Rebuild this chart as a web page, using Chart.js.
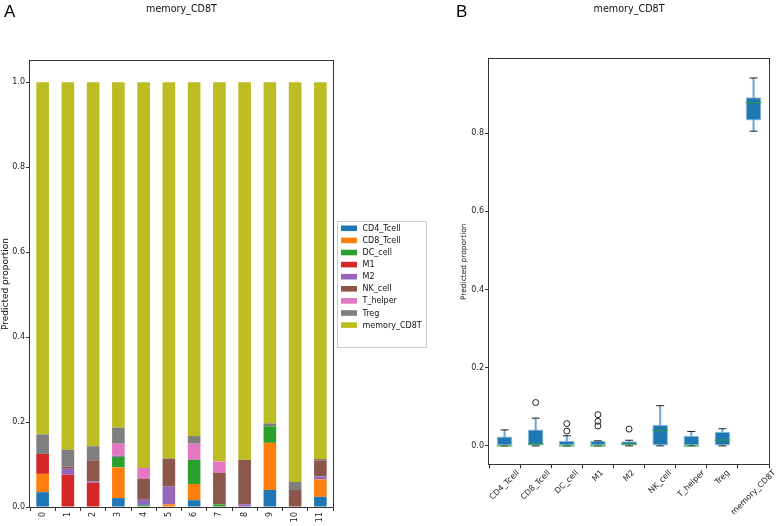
<!DOCTYPE html>
<html><head><meta charset="utf-8">
<script src="https://cdn.jsdelivr.net/npm/chart.js@4/dist/chart.umd.min.js"></script>
<style>
html,body{margin:0;padding:0;background:#fff;width:778px;height:526px;overflow:hidden;}
#ca{position:absolute;left:0;top:0;}
#cb{position:absolute;left:440px;top:0;}
.lbl{position:absolute;font-family:'Liberation Sans',Arial,sans-serif;font-size:17px;line-height:17px;color:#000;}
</style></head><body>
<canvas id="ca" width="440" height="526"></canvas>
<canvas id="cb" width="338" height="526"></canvas>
<div class="lbl" style="left:4px;top:3px">A</div>
<div class="lbl" style="left:456px;top:3px">B</div>
<script>
// ---------- Panel A data (stacked proportions per sample) ----------
const samples = ['0','1','2','3','4','5','6','7','8','9','10','11'];
const cellTypes = ['CD4_Tcell','CD8_Tcell','DC_cell','M1','M2','NK_cell','T_helper','Treg','memory_CD8T'];
const CD4_Tcell   = [0.035,0,0,0.021,0,0,0.016,0,0,0.040,0,0.024];
const CD8_Tcell   = [0.043,0,0,0.072,0,0.006,0.038,0,0,0.111,0,0.041];
const DC_cell     = [0,0,0,0.025,0.004,0,0.057,0.006,0,0.039,0,0];
const M1          = [0.047,0.076,0.057,0,0,0,0,0,0,0,0,0];
const M2          = [0,0.014,0.003,0.003,0.013,0.042,0,0,0.006,0,0,0.007];
const NK_cell     = [0,0.005,0.050,0,0.049,0.066,0,0.074,0.105,0,0.040,0.038];
const T_helper    = [0,0,0,0.028,0.026,0,0.038,0.027,0,0,0,0];
const Treg        = [0.046,0.040,0.033,0.038,0,0,0.018,0,0,0.007,0.019,0.003];
const memory_CD8T = [0.829,0.865,0.857,0.813,0.908,0.886,0.833,0.893,0.889,0.803,0.941,0.887];
const seriesValues = [CD4_Tcell,CD8_Tcell,DC_cell,M1,M2,NK_cell,T_helper,Treg,memory_CD8T];
const seriesColors = ['#1f77b4','#ff7f0e','#2ca02c','#d62728','#9467bd','#8c564b','#e377c2','#7f7f7f','#bcbd22'];
const yTicksA = [0,0.2,0.4,0.6,0.8,1.0];

// ---------- Panel B data (box plot statistics) ----------
const boxCategories = ['CD4_Tcell','CD8_Tcell','DC_cell','M1','M2','NK_cell','T_helper','Treg','memory_CD8T'];
const boxQ1       = [0,0,0,0,0,0,0,0.001,0.832];
const boxMedian   = [0,0.005,0,0,0.005,0.040,0,0.015,0.878];
const boxQ3       = [0.024,0.042,0.013,0.013,0.012,0.054,0.026,0.036,0.892];
const whiskerLow  = [0,0,0,0,0,0,0,0,0.805];
const whiskerHigh = [0.041,0.071,0.026,0.013,0.0145,0.103,0.037,0.044,0.941];
const outlierCategory = ['CD8_Tcell','DC_cell','DC_cell','M1','M1','M1','M2'];
const outlierValue    = [0.111,0.038,0.057,0.051,0.063,0.080,0.043];
const yTicksB = [0,0.2,0.4,0.6,0.8];

Chart.defaults.font.family = '"DejaVu Sans", sans-serif';
Chart.defaults.color = '#222';

const spines = {
  id:'spines',
  afterDatasetsDraw(chart){
    const {ctx, chartArea:a} = chart;
    ctx.save();
    ctx.strokeStyle = '#333'; ctx.lineWidth = 1;
    ctx.strokeRect(Math.round(a.left)-0.5, Math.round(a.top)-0.5, Math.round(a.right)-Math.round(a.left)+1, Math.round(a.bottom)-Math.round(a.top)+1);
    ctx.restore();
  }
};

const boxLegend = {
  id:'boxLegend',
  afterDraw(chart, args, o){
    const ctx = chart.ctx;
    ctx.save();
    ctx.fillStyle = 'rgba(255,255,255,0.85)';
    ctx.fillRect(o.x, o.y, o.w, o.h);
    ctx.strokeStyle = '#cccccc'; ctx.lineWidth = 1;
    ctx.strokeRect(o.x+0.5, o.y+0.5, o.w, o.h);
    ctx.font = '8px "DejaVu Sans"';
    ctx.textBaseline = 'middle';
    chart.data.datasets.forEach((ds,i)=>{
      const cy = o.y + o.first + i*o.step;
      ctx.fillStyle = ds.backgroundColor;
      ctx.fillRect(o.x+4, cy-2.8, 16, 5.6);
      ctx.fillStyle = '#111';
      ctx.fillText(ds.label, o.x+25.5, cy+0.5);
    });
    ctx.restore();
  }
};

const centerRotated = {
  id:'centerRotated',
  beforeDraw(chart){
    const sc = chart.scales.x;
    const items = sc.getLabelItems(chart.chartArea);
    if (items._shifted) return;
    const ctx = chart.ctx;
    ctx.save();
    items.forEach(it=>{
      ctx.font = it.font.string;
      const w = ctx.measureText(it.label).width;
      it.options.translation[0] += w*0.354;
    });
    ctx.restore();
    items._shifted = true;
  }
};

const tickGrid = {display:true, drawOnChartArea:false, drawTicks:true, tickLength:4, color:'#333', lineWidth:1};

new Chart(document.getElementById('ca'), {
  type:'bar',
  data:{
    labels: samples,
    datasets: cellTypes.map((n,i)=>({label:n, data:seriesValues[i], backgroundColor:seriesColors[i], borderWidth:0, barPercentage:0.5, categoryPercentage:1}))
  },
  options:{
    responsive:false, animation:false, devicePixelRatio:1,
    layout:{padding:{left:0,right:107,top:0,bottom:0}},
    plugins:{
      legend:{display:false}, tooltip:{enabled:false},
      title:{display:true, text:'memory_CD8T', fullSize:false, color:'#111', font:{size:9.6, weight:'normal'}, padding:{top:4.2,bottom:45.3}},
      boxLegend:{x:337, y:221, w:89, h:126, first:7.3, step:12.1}
    },
    scales:{
      x:{stacked:true, grid:tickGrid, border:{display:false},
         ticks:{color:'#222', font:{size:8}, minRotation:90, maxRotation:90, autoSkip:false, padding:1},
         afterFit:s=>{s.height=19;}},
      y:{stacked:true, min:0, max:1.05,
         afterBuildTicks:s=>{s.ticks = yTicksA.map(v=>({value:v}));},
         ticks:{color:'#222', font:{size:8}, padding:1, callback:v=>Number(v).toFixed(1)},
         grid:tickGrid, border:{display:false},
         title:{display:true, text:'Predicted proportion', color:'#111', font:{size:9}, padding:{top:0,bottom:0}},
         afterFit:s=>{s.width=30;}}
    }
  },
  plugins:[spines, boxLegend]
});

new Chart(document.getElementById('cb'), {
  type:'bar',
  data:{
    labels: boxCategories,
    datasets:[
      {type:'line', label:'outliers', data: outlierCategory.map((c,i)=>({x:c, y:outlierValue[i]})), showLine:false,
       pointStyle:'circle', pointRadius:3, pointBorderColor:'#222', pointBackgroundColor:'rgba(255,255,255,0)', pointBorderWidth:1, order:0},
      {type:'line', label:'median', data: boxCategories.map((c,i)=>({x:c, y:boxMedian[i]})), showLine:false,
       pointStyle:'line', pointRadius:7.9, pointBorderColor:'#2ca02c', pointBorderWidth:1, order:1},
      {type:'line', label:'capHigh', data: boxCategories.map((c,i)=>({x:c, y:whiskerHigh[i]})), showLine:false,
       pointStyle:'line', pointRadius:4, pointBorderColor:'#222', pointBorderWidth:1, order:1},
      {type:'line', label:'capLow', data: boxCategories.map((c,i)=>({x:c, y:whiskerLow[i]})), showLine:false,
       pointStyle:'line', pointRadius:4, pointBorderColor:'#222', pointBorderWidth:1, order:1},
      {type:'bar', label:'box', data: boxCategories.map((c,i)=>[boxQ1[i], boxQ3[i]]), backgroundColor:'#1f77b4',
       borderColor:'#8dbbdc', borderWidth:1, borderSkipped:false, barPercentage:0.5, categoryPercentage:1, grouped:false, order:2},
      {type:'bar', label:'whisker', data: boxCategories.map((c,i)=>[whiskerLow[i], whiskerHigh[i]]), backgroundColor:'#7aa8d0',
       borderWidth:0, barThickness:1.5, grouped:false, order:3}
    ]
  },
  options:{
    responsive:false, animation:false, devicePixelRatio:1,
    layout:{padding:{left:0,right:5.3,top:0,bottom:0}},
    plugins:{
      legend:{display:false}, tooltip:{enabled:false},
      title:{display:true, text:'memory_CD8T', fullSize:false, color:'#111', font:{size:9.6, weight:'normal'}, padding:{top:4.2,bottom:43.5}}
    },
    scales:{
      x:{grid:tickGrid, border:{display:false},
         ticks:{color:'#222', font:{size:8}, minRotation:45, maxRotation:45, autoSkip:false, padding:0},
         afterFit:s=>{s.height=61.7;}},
      y:{min:-0.047, max:0.989,
         afterBuildTicks:s=>{s.ticks = yTicksB.map(v=>({value:v}));},
         ticks:{color:'#222', font:{size:8}, padding:1, callback:v=>Number(v).toFixed(1)},
         grid:tickGrid, border:{display:false},
         title:{display:true, text:'Predicted proportion', color:'#111', font:{size:7.5}, padding:{top:19.5,bottom:0}},
         afterFit:s=>{s.width=49;}}
    }
  },
  plugins:[spines, centerRotated]
});
</script>
</body></html>
